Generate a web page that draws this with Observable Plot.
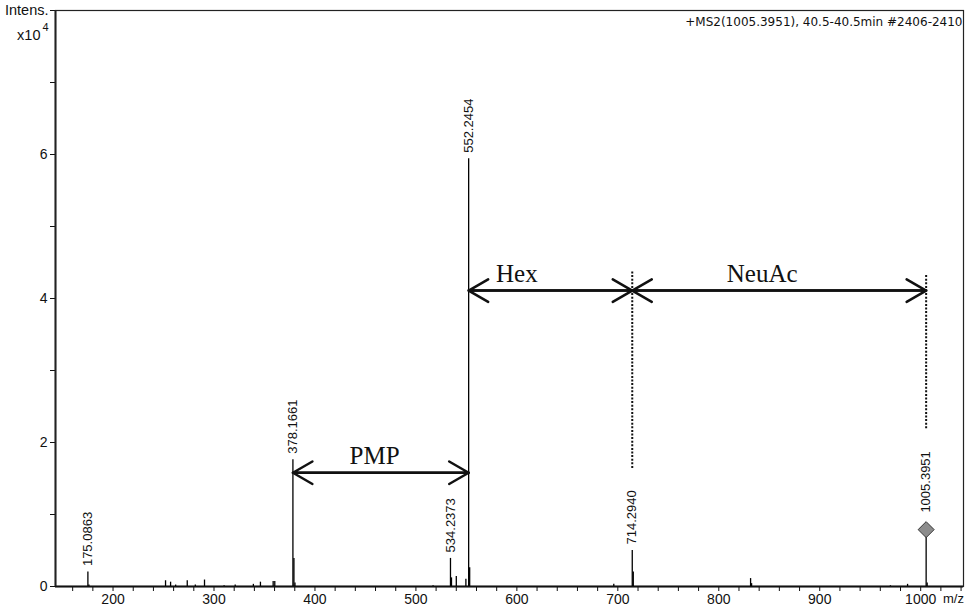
<!DOCTYPE html>
<html><head><meta charset="utf-8">
<script src="https://cdn.jsdelivr.net/npm/d3@7"></script>
<script src="https://cdn.jsdelivr.net/npm/@observablehq/plot@0.6"></script>
<style>body{margin:0;background:#fff}</style>
</head><body><div id="chart"></div>
<script>
// Spectrum peaks (m/z, intensity in units of 10^4)
const peakMz = [175.0863, 176.1, 252, 257, 262, 273.5, 281.5, 290.6, 310, 321, 339, 346, 358.6, 360.2,
  378.1661, 379.17, 380.2, 517, 534.2373, 535.24, 540, 549.5, 552.2454, 553.25,
  696, 714.2940, 715.3, 831.5, 832.5, 970, 987, 1005.3951, 1006.4];
const peakIntensity = [0.2, 0.02, 0.08, 0.06, 0.02, 0.08, 0.02, 0.09, 0.01, 0.02, 0.03, 0.06, 0.07, 0.07,
  1.76, 0.39, 0.05, 0.01, 0.39, 0.12, 0.14, 0.1, 5.94, 0.26,
  0.03, 0.5, 0.2, 0.11, 0.04, 0.01, 0.03, 0.79, 0.05];

// Labelled peaks
const labelMz = [175.0863, 378.1661, 534.2373, 552.2454, 714.2940];
const labelIntensity = [0.2, 1.76, 0.39, 5.94, 0.5];
const labelText = ["175.0863", "378.1661", "534.2373", "552.2454", "714.2940"];

// Precursor
const precursorMz = [1005.3951];
const precursorIntensity = [0.79];
const precursorText = ["1005.3951"];

// Mass-difference annotations
const spanNames = ["PMP", "Hex", "NeuAc"];
const spanStart = [378.1661, 552.2454, 714.2940];
const spanEnd = [552.2454, 714.2940, 1005.3951];
const spanLevel = [1.58, 4.11, 4.11];
const spanLabelMz = [459, 600, 843];

// Dotted guides
const guideMz = [714.2940, 1005.3951];
const guideTop = [4.375, 4.32];
const guideBottom = [1.64, 2.19];

// Axes
const xMajorTicks = [200, 300, 400, 500, 600, 700, 800, 900, 1000];
const xMinorTicks = [160, 180, 220, 240, 260, 280, 320, 340, 360, 380, 420, 440, 460, 480, 520, 540, 560, 580,
  620, 640, 660, 680, 720, 740, 760, 780, 820, 840, 860, 880, 920, 940, 960, 980, 1020, 1040];
const yMajorTicks = [0, 2, 4, 6];
const yMinorTicks = [1, 3, 5, 7];
const yTopTick = [8];
const titleText = "+MS2(1005.3951), 40.5-40.5min #2406-2410";

const peaks = peakMz.map((mz, i) => ({mz, y: peakIntensity[i]}));
const labels = labelMz.map((mz, i) => ({mz, y: labelIntensity[i], t: labelText[i]}));
const prec = precursorMz.map((mz, i) => ({mz, y: precursorIntensity[i], t: precursorText[i]}));
const spans = spanNames.map((name, i) => ({name, a: spanStart[i], b: spanEnd[i], y: spanLevel[i], lx: spanLabelMz[i]}));
const guides = guideMz.map((mz, i) => ({mz, y1: guideBottom[i], y2: guideTop[i]}));

const sans = "'Liberation Sans', Arial, sans-serif";
const serif = "'Liberation Serif', 'Times New Roman', serif";

const chart = Plot.plot({
  width: 971,
  height: 616,
  marginLeft: 55,
  marginRight: 8,
  marginTop: 10,
  marginBottom: 30,
  style: {fontFamily: sans, fontSize: "14px", color: "#111", background: "#fff"},
  x: {domain: [143, 1042.4], axis: null},
  y: {domain: [0, 8], axis: null},
  marks: [
    Plot.frame({stroke: "#222", strokeWidth: 1.2}),
    Plot.axisX({ticks: xMajorTicks, tickSize: 5, tickPadding: 3, tickFormat: d => String(d), stroke: "#111", fontSize: 14, fontFamily: sans}),
    Plot.axisX({ticks: xMinorTicks, tickSize: 5, tickFormat: () => "", stroke: "#111"}),
    Plot.axisY({ticks: yMajorTicks, tickSize: 5, tickPadding: 3, tickFormat: d => String(d), stroke: "#111", fontSize: 14, fontFamily: sans}),
    Plot.axisY({ticks: yMinorTicks, tickSize: 5, tickFormat: () => "", stroke: "#111"}),
    Plot.axisY({ticks: yTopTick, tickSize: 5, tickPadding: 2, tickFormat: () => "Intens.", stroke: "#111", fontSize: 14.5, fontFamily: sans}),
    Plot.ruleY([0], {stroke: "#111", strokeWidth: 2}),
    Plot.ruleX([143], {stroke: "#222", strokeWidth: 2}),
    Plot.ruleX(peaks, {x: "mz", y1: 0, y2: "y", stroke: "#000", strokeWidth: 1.3}),
    Plot.ruleX(guides, {x: "mz", y1: "y1", y2: "y2", stroke: "#111", strokeWidth: 2, strokeDasharray: "2,1.6"}),
    Plot.arrow(spans, {x1: "a", x2: "b", y1: "y", y2: "y", stroke: "#111", strokeWidth: 2.5, headLength: 13.5, headAngle: 60}),
    Plot.arrow(spans, {x1: "b", x2: "a", y1: "y", y2: "y", stroke: "#111", strokeWidth: 2.5, headLength: 13.5, headAngle: 60}),
    Plot.text(spans, {x: "lx", y: "y", text: "name", fontFamily: serif, fontSize: 25, fill: "#111", textAnchor: "middle", lineAnchor: "bottom", dy: -9}),
    Plot.text(labels, {x: "mz", y: "y", text: "t", rotate: -90, textAnchor: "start", dy: -6, fontSize: 13, fill: "#111", fontFamily: sans}),
    Plot.dot(prec, {x: "mz", y: "y", symbol: "diamond2", r: 7.2, fill: "#8c8c8c", stroke: "#333", strokeWidth: 1}),
    Plot.text(prec, {x: "mz", y: "y", text: "t", rotate: -90, textAnchor: "start", dy: -17, fontSize: 13, fill: "#111", fontFamily: sans}),
    Plot.text([titleText], {frameAnchor: "top-right", text: d => d, dx: -1, dy: 7, textAnchor: "end", fontFamily: "'DejaVu Sans', Verdana, sans-serif", fontSize: 12, fill: "#111"}),
    Plot.text(["x10"], {frameAnchor: "top-left", text: d => d, dx: -15, dy: 19, textAnchor: "end", fontSize: 14.5, fill: "#111", fontFamily: sans}),
    Plot.text(["4"], {frameAnchor: "top-left", text: d => d, dx: -7, dy: 13, textAnchor: "end", fontSize: 11, fill: "#111", fontFamily: sans}),
    Plot.text(["m/z"], {frameAnchor: "bottom-right", text: d => d, dx: -10, dy: 16, textAnchor: "middle", fontSize: 13, fill: "#111", fontFamily: sans})
  ]
});
document.getElementById("chart").appendChild(chart);
</script>
</body></html>
